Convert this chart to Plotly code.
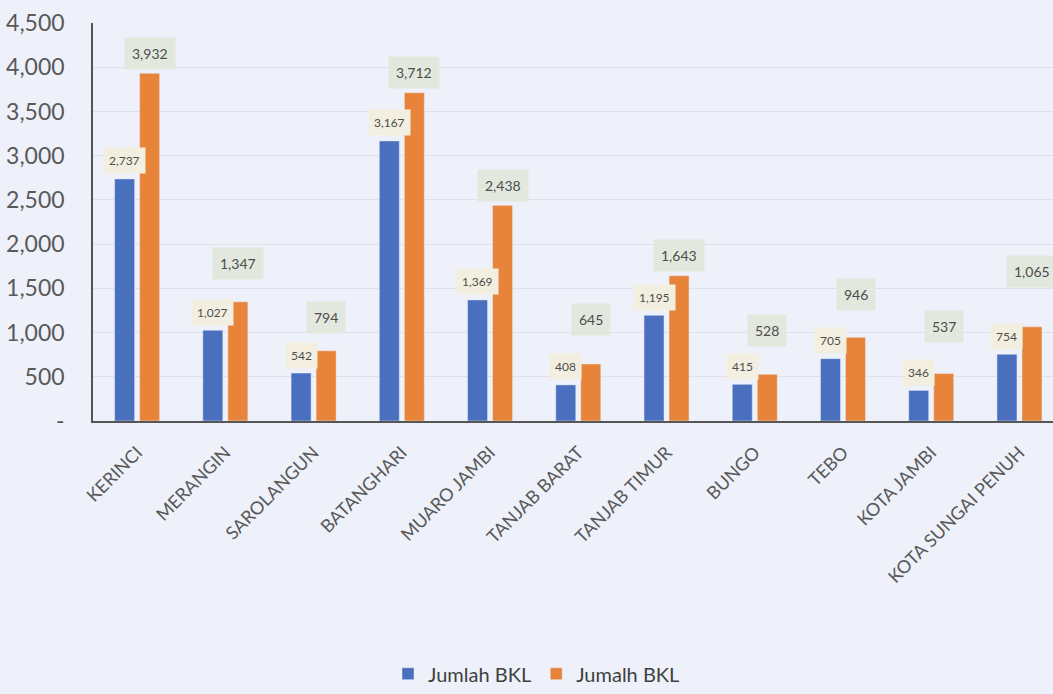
import plotly.graph_objects as go

REGIONS = [
    "KERINCI", "MERANGIN", "SAROLANGUN", "BATANGHARI", "MUARO JAMBI",
    "TANJAB BARAT", "TANJAB TIMUR", "BUNGO", "TEBO", "KOTA JAMBI",
    "KOTA SUNGAI PENUH",
]
JUMLAH_BKL_A = [2737, 1027, 542, 3167, 1369, 408, 1195, 415, 705, 346, 754]
JUMLAH_BKL_B = [3932, 1347, 794, 3712, 2438, 645, 1643, 528, 946, 537, 1065]
Y_TICKS = [0, 500, 1000, 1500, 2000, 2500, 3000, 3500, 4000, 4500]

BLUE = "#4a6fbf"
ORANGE = "#e8843a"
BG = "#eef1f9"
TEXT = "#595959"
FONT = "Lato"

# pixel lift of each orange label above its bar (Excel moved some up to dodge)
ORANGE_LIFT = [20, 38, 33, 20, 20, 44, 20, 44, 43, 47, 55]

fig = go.Figure()
fig.add_trace(go.Bar(name="Jumlah BKL", x=REGIONS, y=JUMLAH_BKL_A, marker_color=BLUE))
fig.add_trace(go.Bar(name="Jumalh BKL", x=REGIONS, y=JUMLAH_BKL_B, marker_color=ORANGE))

for i, region in enumerate(REGIONS):
    fig.add_annotation(
        x=region, y=JUMLAH_BKL_B[i], xshift=12.5, yshift=ORANGE_LIFT[i],
        text=f"{JUMLAH_BKL_B[i]:,}", showarrow=False, yanchor="middle",
        bgcolor="#e3e8df", borderpad=7,
        font=dict(family=FONT, size=14, color="#4d4d4d"),
    )
    fig.add_annotation(
        x=region, y=JUMLAH_BKL_A[i], xshift=-12.5, yshift=18,
        text=f"{JUMLAH_BKL_A[i]:,}", showarrow=False, yanchor="middle",
        bgcolor="#f3efe0", borderpad=5,
        font=dict(family=FONT, size=12, color="#4d4d4d"),
    )

fig.update_layout(
    width=1053, height=694,
    margin=dict(l=93, r=0, t=23, b=269),
    paper_bgcolor=BG, plot_bgcolor=BG,
    barmode="group", bargap=0.433, bargroupgap=0.2,
    showlegend=True,
    legend=dict(
        orientation="h", x=0.462, xanchor="center", y=-0.635, yanchor="middle",
        font=dict(family=FONT, size=20, color="#404040"),
        itemwidth=30, tracegroupgap=0,
    ),
    font=dict(family=FONT, color=TEXT),
)
fig.update_xaxes(
    range=[-0.5, 10.38], tickangle=-45,
    tickfont=dict(family=FONT, size=18, color=TEXT),
    ticklabelstandoff=12,
    showline=True, linecolor="#555555", linewidth=2,
    showgrid=False, ticks="",
)
fig.update_yaxes(
    range=[0, 4500], tickvals=Y_TICKS,
    ticktext=["-" if v == 0 else f"{v:,}" for v in Y_TICKS],
    tickfont=dict(family=FONT, size=23, color=TEXT),
    ticklabelstandoff=22,
    showline=True, linecolor="#555555", linewidth=1.5,
    showgrid=True, gridcolor="#dde1ea", gridwidth=1,
    zeroline=False,
)

fig.write_html(
    "out.html",
    config={"displayModeBar": False},
    post_script="document.body.style.margin='0';document.body.style.background='%s';" % BG,
)
